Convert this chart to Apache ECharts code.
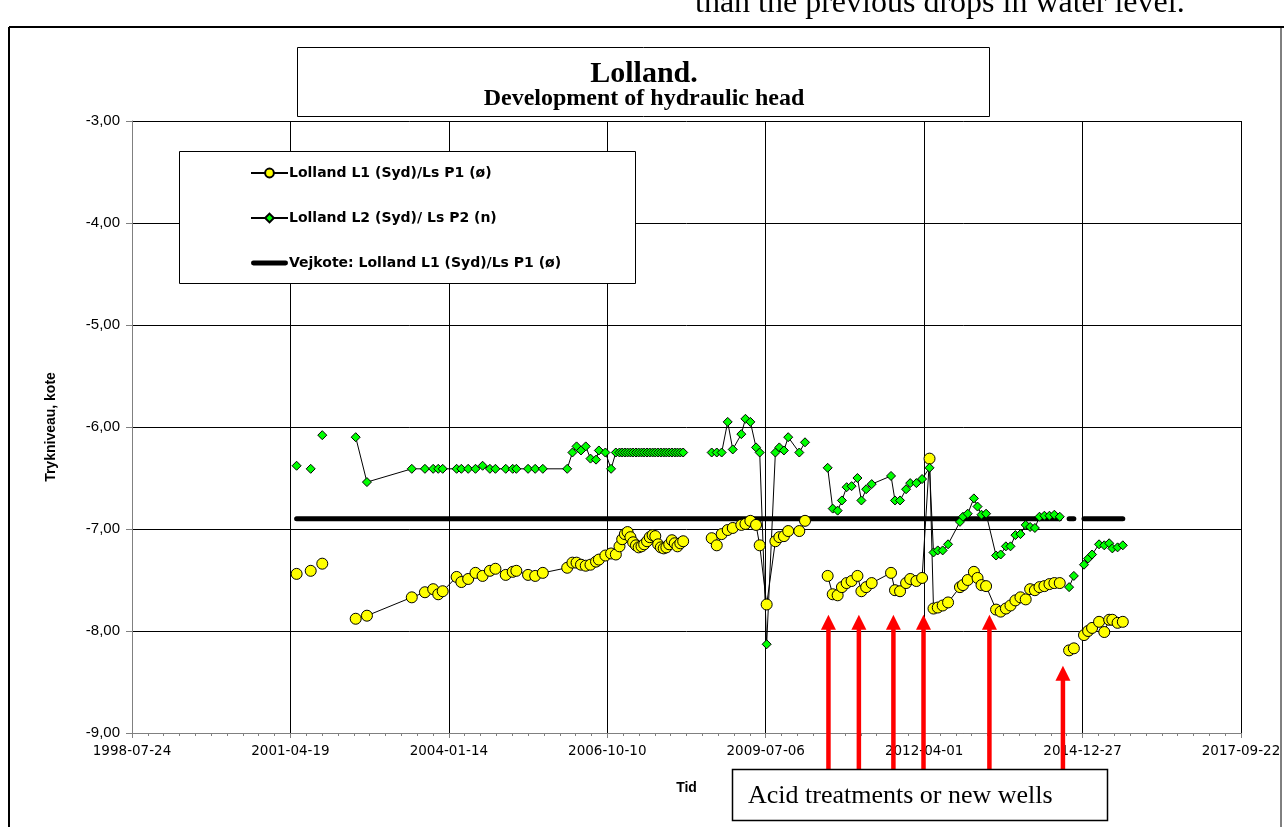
<!DOCTYPE html>
<html>
<head>
<meta charset="utf-8">
<script src="https://cdn.jsdelivr.net/npm/echarts@6/dist/echarts.min.js"></script>
<style>
  html, body { margin: 0; padding: 0; background: #fff; }
  #chart { width: 1284px; height: 827px; }
</style>
</head>
<body>
<div id="chart"></div>
<script>
// Measurement dates (null readings break the line)
const dates = [
  '2001-05-28','2001-07-10','2001-08-25','2001-10-01','2001-11-06','2002-02-15',
  '2002-06-05','2002-08-15','2003-05-25','2003-08-16','2003-10-07','2003-11-08',
  '2003-12-06','2004-03-03','2004-04-02','2004-05-15','2004-06-30','2004-08-14',
  '2004-09-29','2004-11-03','2005-01-07','2005-02-20','2005-03-15','2005-05-28',
  '2005-07-12','2005-08-29','2006-01-30','2006-03-04','2006-03-30','2006-04-27',
  '2006-05-27','2006-06-26','2006-07-31','2006-08-18','2006-09-28','2006-11-03',
  '2006-12-03','2006-12-26','2007-01-12','2007-01-29','2007-02-15','2007-03-05',
  '2007-03-22','2007-04-09','2007-04-26','2007-05-14','2007-05-31','2007-06-18',
  '2007-07-05','2007-07-23','2007-08-09','2007-08-27','2007-09-13','2007-10-01',
  '2007-10-18','2007-11-05','2007-11-22','2007-12-10','2007-12-27','2008-01-14',
  '2008-02-01','2008-05-01','2008-07-30','2008-08-31','2008-10-01','2008-11-08',
  '2008-12-10','2009-02-02','2009-02-28','2009-03-31','2009-05-06','2009-05-29',
  '2009-07-12','2009-09-05','2009-09-30','2009-10-29','2009-11-25','2010-02-03',
  '2010-03-11','2010-06-01','2010-08-01','2010-09-02','2010-10-03','2010-10-30',
  '2010-11-29','2010-12-30','2011-02-05','2011-03-02','2011-04-01','2011-05-06',
  '2011-09-05','2011-09-30','2011-11-01','2011-12-09','2012-01-04','2012-02-12',
  '2012-03-19','2012-05-05','2012-05-30','2012-06-26','2012-07-27','2012-08-30',
  '2012-11-13','2012-12-02','2013-01-01','2013-02-09','2013-03-04','2013-03-29',
  '2013-04-27','2013-06-29','2013-07-28','2013-08-30','2013-09-28','2013-10-29',
  '2013-11-30','2014-01-02','2014-01-30','2014-03-01','2014-03-30','2014-04-30',
  '2014-06-01','2014-07-02','2014-08-05','2014-09-05','2014-10-03','2014-11-02',
  '2014-12-05','2015-01-05','2015-01-31','2015-02-25','2015-04-10','2015-05-13',
  '2015-06-13','2015-07-03','2015-08-05','2015-09-07'
];

// Lolland L1 (Syd)/Ls P1 (ø)
const l1 = [
  -7.44, null, -7.41, null, -7.34, null,
  -7.88, -7.85, -7.67, -7.62, -7.59, -7.64,
  -7.61, -7.47, -7.52, -7.49, -7.43, -7.46,
  -7.41, -7.39, -7.45, -7.42, -7.41, -7.45,
  -7.46, -7.43, -7.38, -7.33, -7.33, -7.35,
  -7.36, -7.35, -7.32, -7.30, -7.26, -7.24,
  -7.25, -7.17, -7.10, -7.05, -7.03, -7.08,
  -7.13, -7.16, -7.18, -7.17, -7.15, -7.12,
  -7.08, -7.06, -7.07, -7.15, -7.18, -7.19,
  -7.18, -7.15, -7.11, -7.14, -7.17, -7.14,
  -7.12, null, -7.09, -7.16, -7.05, -7.01,
  -6.99, -6.96, -6.95, -6.92, -6.96, -7.16,
  -7.74, -7.12, -7.08, -7.07, -7.02, -7.02,
  -6.92, null, -7.46, -7.64, -7.65, -7.57,
  -7.53, -7.51, -7.46, -7.61, -7.57, -7.53,
  -7.43, -7.60, -7.61, -7.53, -7.49, -7.51,
  -7.48, -6.31, -7.78, -7.77, -7.75, -7.72,
  -7.57, -7.55, -7.50, -7.42, -7.48, -7.55,
  -7.56, -7.79, -7.81, -7.78, -7.75, -7.70,
  -7.67, -7.69, -7.59, -7.60, -7.57, -7.56,
  -7.54, -7.53, -7.53, null, -8.19, -8.17,
  null, -8.04, -8.00, -7.97, -7.91, -8.01,
  -7.89, -7.89, -7.92, -7.91
];

// Lolland L2 (Syd)/ Ls P2 (n)
const l2 = [
  -6.38, null, -6.41, null, -6.08, null,
  -6.10, -6.54, -6.41, -6.41, -6.41, -6.41,
  -6.41, -6.41, -6.41, -6.41, -6.41, -6.38,
  -6.41, -6.41, -6.41, -6.41, -6.41, -6.41,
  -6.41, -6.41, -6.41, -6.25, -6.19, -6.23,
  -6.19, -6.31, -6.32, -6.23, -6.25, -6.41,
  -6.25, -6.25, -6.25, -6.25, -6.25, -6.25,
  -6.25, -6.25, -6.25, -6.25, -6.25, -6.25,
  -6.25, -6.25, -6.25, -6.25, -6.25, -6.25,
  -6.25, -6.25, -6.25, -6.25, -6.25, -6.25,
  -6.25, null, -6.25, -6.25, -6.25, -5.95,
  -6.22, -6.07, -5.92, -5.95, -6.20, -6.25,
  -8.13, -6.25, -6.20, -6.23, -6.10, -6.25,
  -6.15, null, -6.40, -6.80, -6.82, -6.72,
  -6.59, -6.58, -6.50, -6.72, -6.61, -6.56,
  -6.48, -6.72, -6.72, -6.61, -6.55, -6.55,
  -6.51, -6.40, -7.23, -7.21, -7.21, -7.15,
  -6.93, -6.88, -6.85, -6.70, -6.78, -6.86,
  -6.85, -7.26, -7.25, -7.17, -7.17, -7.06,
  -7.05, -6.96, -6.98, -6.99, -6.88, -6.87,
  -6.87, -6.86, -6.88, null, -7.57, -7.46,
  null, -7.35, -7.29, -7.25, -7.15, -7.16,
  -7.14, -7.19, -7.18, -7.16
];

// Road level (Vejkote) and the periods it is drawn for
const vejkoteLevel = -6.90;
const vejkoteSpans = [
  ['2001-05-28', '2014-08-05'],
  ['2014-10-03', '2014-11-02'],
  ['2015-01-05', '2015-09-07']
];

// Acid treatments / new wells: date and level of the arrow tip
const treatmentDates = ['2010-08-06', '2011-02-14', '2011-09-20', '2012-03-28', '2013-05-18', '2014-08-25'];
const treatmentTips = [-7.84, -7.84, -7.84, -7.84, -7.84, -8.34];

// Time axis: days counted from the first tick, ticks every 1000 days
const axisStart = '1998-07-24';
const axisSpanDays = 7000;
const axisStepDays = 1000;
const yMin = -9, yMax = -3, yStep = 1;

const DAY = 86400000;
function utc(s) { const p = s.split('-').map(Number); return Date.UTC(p[0], p[1] - 1, p[2]); }
const t0 = utc(axisStart);
function dayOf(s) { return (utc(s) - t0) / DAY; }
function dayLabel(d) { return new Date(t0 + d * DAY).toISOString().slice(0, 10); }

const l1Data = dates.map((d, i) => [dayOf(d), l1[i]]);
const l2Data = dates.map((d, i) => [dayOf(d), l2[i]]);
const vejData = [];
vejkoteSpans.forEach((s, i) => {
  if (i > 0) vejData.push([dayOf(s[0]) - 1, null]);
  vejData.push([dayOf(s[0]), vejkoteLevel], [dayOf(s[1]), vejkoteLevel]);
});

const SANS = 'Liberation Sans';
const WIDE = 'DejaVu Sans';

const chart = echarts.init(document.getElementById('chart'), null, { renderer: 'canvas' });

const option = {
  animation: false,
  backgroundColor: '#fff',
  grid: { left: 132, right: 43, top: 121, bottom: 94, containLabel: false },
  legend: {
    orient: 'vertical',
    left: 250, top: 166,
    padding: 0,
    itemGap: 31,
    itemWidth: 37, itemHeight: 11,
    z: 10,
    textStyle: { fontFamily: WIDE, fontWeight: 'bold', fontSize: 14, color: '#000', padding: [0, 0, 0, -4] },
    data: [
      { name: 'Lolland L1 (Syd)/Ls P1 (ø)' },
      { name: 'Lolland L2 (Syd)/ Ls P2 (n)' },
      { name: 'Vejkote: Lolland L1 (Syd)/Ls P1 (ø)', icon: 'path://M2.5,0 L35.5,0 A2.5,2.5 0 0 1 35.5,5 L2.5,5 A2.5,2.5 0 0 1 2.5,0 Z', itemStyle: { color: '#000' } }
    ]
  },
  xAxis: {
    type: 'value',
    min: 0, max: axisSpanDays, interval: axisStepDays,
    name: 'Tid', nameLocation: 'middle', nameGap: 48,
    nameTextStyle: { fontFamily: SANS, fontWeight: 'bold', fontSize: 14, color: '#000' },
    axisLine: { lineStyle: { color: '#808080', width: 1 } },
    axisTick: { show: true, length: 5, lineStyle: { color: '#808080' } },
    minorTick: { show: true, splitNumber: 10, length: 3, lineStyle: { color: '#808080' } },
    axisLabel: { formatter: dayLabel, fontFamily: WIDE, fontSize: 13.5, color: '#000', margin: 11 },
    splitLine: { show: true, lineStyle: { color: '#000', width: 1 } }
  },
  yAxis: {
    type: 'value',
    min: yMin, max: yMax, interval: yStep,
    name: 'Trykniveau, kote', nameLocation: 'middle', nameGap: 74,
    nameTextStyle: { fontFamily: SANS, fontWeight: 'bold', fontSize: 14, color: '#000' },
    axisLine: { show: true, lineStyle: { color: '#808080', width: 1 } },
    axisTick: { show: true, length: 6, lineStyle: { color: '#808080' } },
    axisLabel: { formatter: v => v.toFixed(2).replace('.', ','), fontFamily: SANS, fontSize: 15, color: '#000', margin: 12 },
    splitLine: { show: true, lineStyle: { color: '#000', width: 1 } }
  },
  series: [
    {
      name: 'Lolland L1 (Syd)/Ls P1 (ø)',
      type: 'line',
      data: l1Data,
      symbol: 'circle', symbolSize: 11,
      itemStyle: { color: '#ffff00', borderColor: '#000', borderWidth: 1 },
      lineStyle: { color: '#000', width: 1 },
      connectNulls: false
    },
    {
      name: 'Vejkote: Lolland L1 (Syd)/Ls P1 (ø)',
      type: 'line',
      data: vejData,
      symbol: 'none',
      itemStyle: { color: '#000' },
      lineStyle: { color: '#000', width: 5, cap: 'round' },
      connectNulls: false
    },
    {
      name: 'Lolland L2 (Syd)/ Ls P2 (n)',
      type: 'line',
      data: l2Data,
      symbol: 'diamond', symbolSize: 9,
      itemStyle: { color: '#00ff00', borderColor: '#000', borderWidth: 1 },
      lineStyle: { color: '#000', width: 1 },
      connectNulls: false
    }
  ],
  graphic: []
};

chart.setOption(option);

// Frame, boxes, title texts and treatment arrows
function buildGraphics() {
  const els = [];
  // outer frame
  els.push({ type: 'line', shape: { x1: 9, y1: 27, x2: 1284, y2: 27 }, style: { stroke: '#000', lineWidth: 2 }, z: 20 });
  els.push({ type: 'line', shape: { x1: 9, y1: 27, x2: 9, y2: 827 }, style: { stroke: '#000', lineWidth: 2 }, z: 20 });
  els.push({ type: 'line', shape: { x1: 1281, y1: 27, x2: 1281, y2: 827 }, style: { stroke: '#000', lineWidth: 1 }, z: 20 });
  // text running above the frame
  els.push({ type: 'text', x: 695, y: 4, style: { text: 'than the previous drops in water level.', font: '32px "Liberation Serif"', fill: '#000', textVerticalAlign: 'middle' }, z: 20 });
  // title box
  els.push({ type: 'rect', shape: { x: 297.5, y: 47.5, width: 692, height: 69 }, style: { fill: '#fff', stroke: '#000', lineWidth: 1 }, z: 5 });
  els.push({ type: 'text', x: 644, y: 74, style: { text: 'Lolland.', font: 'bold 30px "Liberation Serif"', fill: '#000', textAlign: 'center', textVerticalAlign: 'middle' }, z: 6 });
  els.push({ type: 'text', x: 644, y: 99, style: { text: 'Development of hydraulic head', font: 'bold 24px "Liberation Serif"', fill: '#000', textAlign: 'center', textVerticalAlign: 'middle' }, z: 6 });
  // legend box
  els.push({ type: 'rect', shape: { x: 179.5, y: 151.5, width: 456, height: 132 }, style: { fill: '#fff', stroke: '#000', lineWidth: 1 }, z: 5 });
  // treatment arrows
  const boxTop = 769;
  treatmentDates.forEach((d, i) => {
    const p = chart.convertToPixel({ xAxisIndex: 0, yAxisIndex: 0 }, [dayOf(d), treatmentTips[i]]);
    const x = p[0], y = p[1];
    els.push({ type: 'rect', shape: { x: x - 2.25, y: y + 14, width: 4.5, height: boxTop - y - 14 }, style: { fill: '#ff0000' }, z: 15 });
    els.push({ type: 'polygon', shape: { points: [[x, y], [x - 7.5, y + 15], [x + 7.5, y + 15]] }, style: { fill: '#ff0000' }, z: 15 });
  });
  // annotation box
  els.push({ type: 'rect', shape: { x: 732.5, y: 769.5, width: 375, height: 51 }, style: { fill: '#fff', stroke: '#000', lineWidth: 1.5 }, z: 16 });
  els.push({ type: 'text', x: 748, y: 796, style: { text: 'Acid treatments or new wells', font: '26px "Liberation Serif"', fill: '#000', textVerticalAlign: 'middle' }, z: 17 });
  return els;
}

chart.setOption({ graphic: buildGraphics() });
</script>
</body>
</html>
